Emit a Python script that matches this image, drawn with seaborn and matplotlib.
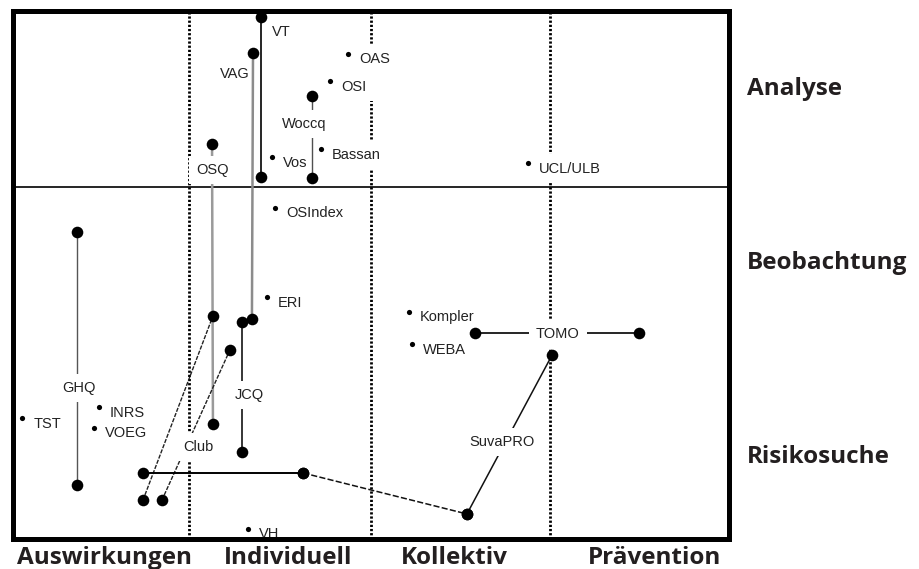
import matplotlib
matplotlib.use("Agg")
import matplotlib.pyplot as plt
import seaborn as sns

sns.set_style("white")
plt.rcParams['font.family'] = ['Liberation Sans', 'DejaVu Sans']

# ---------------------------------------------------------------
# Data: x = 0..4 (Auswirkungen / Individuell / Kollektiv / Prävention)
#       y = 0..3 (Risikosuche / Beobachtung / Analyse)
# ---------------------------------------------------------------
x_categories = ["Auswirkungen", "Individuell", "Kollektiv", "Prävention"]
x_category_pos = [0.506, 1.535, 2.463, 3.586]
y_categories = ["Analyse", "Beobachtung", "Risikosuche"]
y_category_pos = [2.577, 1.588, 0.486]

column_borders = [0.98, 2.0, 3.0]
level_border = 2.0

# instruments that cover a range (segments with end dots)
seg_names = ["VT", "VAG", "OSQ", "Woccq", "JCQ", "GHQ", "TOMO",
             "Schraeg", "Club", "Basis", "Verbindung", "SuvaPRO"]
seg_x0 = [1.384, 1.339, 1.110, 1.669, 1.277, 0.355, 2.580, 0.724, 0.830, 0.724, 1.619, 2.535]
seg_y0 = [2.969, 2.764, 2.247, 2.520, 1.236, 1.747, 1.173, 0.224, 0.224, 0.378, 0.378, 0.145]
seg_x1 = [1.384, 1.333, 1.115, 1.669, 1.277, 0.355, 3.497, 1.115, 1.210, 1.619, 2.535, 3.011]
seg_y1 = [2.060, 1.253, 0.656, 2.054, 0.497, 0.310, 1.173, 1.270, 1.077, 0.378, 0.145, 1.048]

# labels sitting on their line (they break it)
on_line_labels = ["OSQ", "Woccq", "JCQ", "GHQ", "TOMO", "Club", "SuvaPRO"]
on_line_x = [1.115, 1.624, 1.317, 0.366, 3.044, 1.031, 2.731]
on_line_y = [2.099, 2.361, 0.821, 0.861, 1.168, 0.526, 0.554]

# labels beside their line
side_labels = ["VT", "VAG"]
side_x = [1.445, 1.238]
side_y = [2.884, 2.645]

# single-point instruments
point_names = ["OAS", "OSI", "Bassan", "Vos", "UCL/ULB", "OSIndex", "ERI",
               "Kompler", "WEBA", "INRS", "TST", "VOEG", "VH"]
point_x = [1.870, 1.770, 1.719, 1.445, 2.876, 1.462, 1.417,
           2.211, 2.228, 0.478, 0.048, 0.450, 1.311]
point_y = [2.759, 2.605, 2.219, 2.173, 2.139, 1.884, 1.378,
           1.293, 1.111, 0.753, 0.690, 0.634, 0.060]

# line styles per segment
seg_style = {
    "VT": ("black", 1.2, "-"),
    "VAG": ("#8c8c8c", 1.8, "-"),
    "OSQ": ("#9a9a9a", 1.8, "-"),
    "Woccq": ("#505050", 1.0, "-"),
    "JCQ": ("black", 1.1, "-"),
    "GHQ": ("#555555", 1.0, "-"),
    "TOMO": ("black", 1.2, "-"),
    "Schraeg": ("#222222", 1.0, (0, (3, 1))),
    "Club": ("#222222", 1.0, (0, (3, 1))),
    "Basis": ("black", 1.4, "-"),
    "Verbindung": ("#111111", 1.1, (0, (4, 1.5))),
    "SuvaPRO": ("#111111", 1.1, "-"),
}

fig = plt.figure(figsize=(9.2, 5.69), dpi=100)
ax = fig.add_axes([0.01467, 0.05185, 0.7777, 0.92795])

# grid of the map
for xb in column_borders:
    ax.axvline(xb, color="black", lw=2.0, ls=(0, (0.8, 0.7)), zorder=1)
ax.axhline(level_border, color="black", lw=1.2, zorder=1)

# range lines
for name, a0, b0, a1, b1 in zip(seg_names, seg_x0, seg_y0, seg_x1, seg_y1):
    c, lw, ls = seg_style[name]
    sns.lineplot(x=[a0, a1], y=[b0, b1], sort=False, estimator=None,
                 color=c, lw=lw, ls=ls, ax=ax, zorder=3)

# end dots
sns.scatterplot(x=seg_x0 + seg_x1, y=seg_y0 + seg_y1, s=70, color="black",
                linewidth=0, ax=ax, zorder=5, clip_on=False)
# single points
sns.scatterplot(x=point_x, y=point_y, s=14, color="black",
                linewidth=0, ax=ax, zorder=5)

txt = dict(fontsize=10.5, color="#222222")
box = dict(boxstyle="square,pad=0.5", fc="white", ec="none")

for name, a, b in zip(point_names, point_x, point_y):
    ax.annotate(name, (a, b), xytext=(8, -4), textcoords="offset points",
                ha="left", va="center", bbox=box, zorder=2, **txt)

for name, a, b in zip(on_line_labels, on_line_x, on_line_y):
    ax.text(a, b, name, ha="center", va="center", bbox=box, zorder=4, **txt)

ax.text(side_x[0], side_y[0], side_labels[0], ha="left", va="center", zorder=4, **txt)
ax.text(side_x[1], side_y[1], side_labels[1], ha="center", va="center", zorder=4, **txt)

ax.set_xlim(0, 4)
ax.set_ylim(0, 3)
ax.set_xlabel("")
ax.set_ylabel("")

big = dict(family=["Open Sans", "DejaVu Sans"], fontweight="bold", fontsize=17.5, color="#231f20")
ax.set_xticks(x_category_pos)
ax.set_xticklabels(x_categories, **big)
ax.yaxis.tick_right()
ax.set_yticks(y_category_pos)
ax.set_yticklabels(y_categories, ha="left", **big)
ax.tick_params(axis="x", length=0, pad=4.5)
ax.tick_params(axis="y", length=0, pad=13)
ax.xaxis.set_zorder(6)
ax.yaxis.set_zorder(6)

for sp in ax.spines.values():
    sp.set_visible(True)
    sp.set_color("black")
    sp.set_linewidth(3.6)
    sp.set_zorder(2.5)

fig.savefig("out.png", dpi=100)
